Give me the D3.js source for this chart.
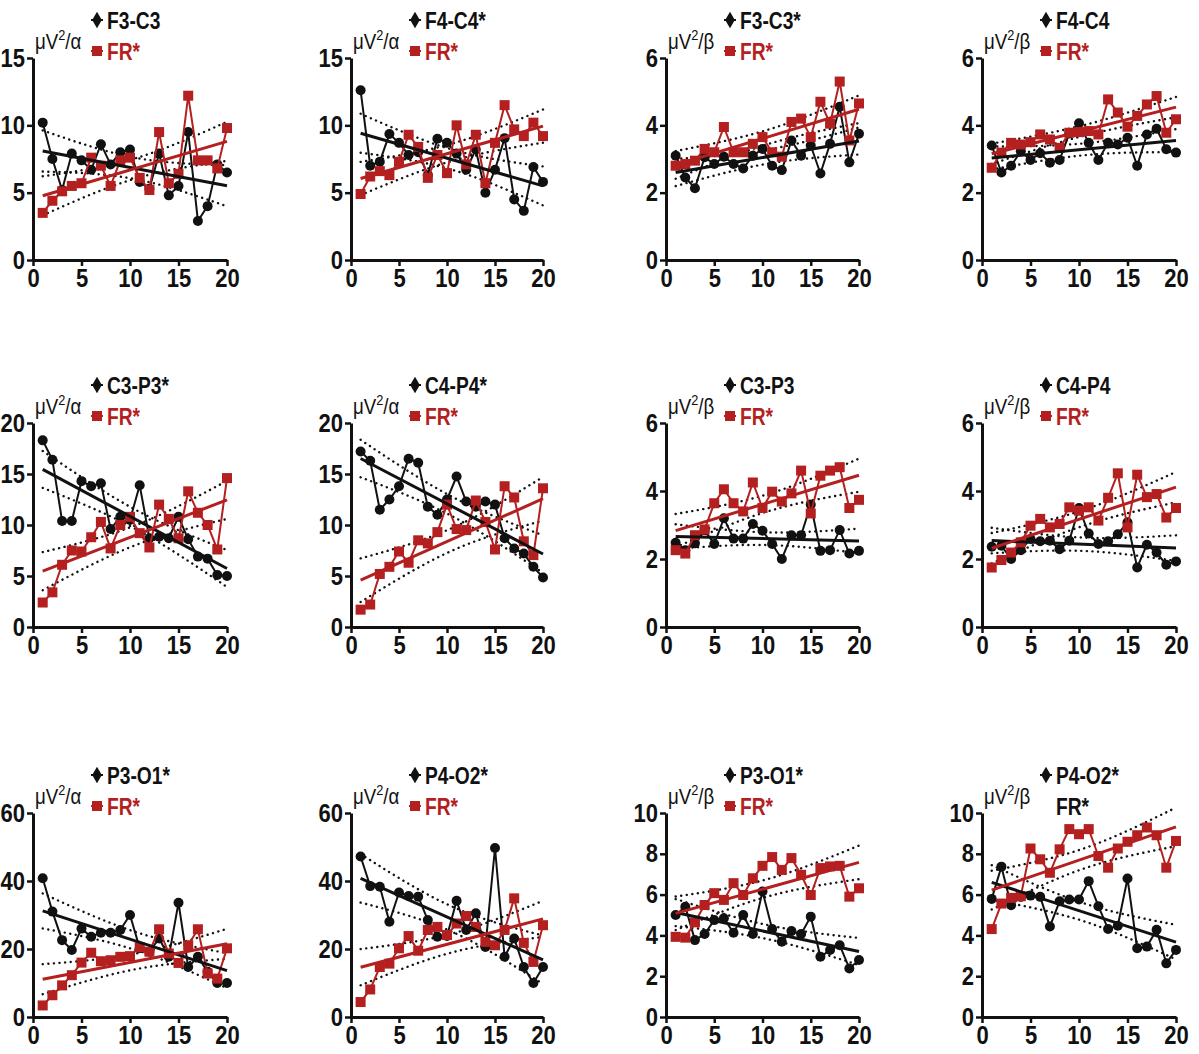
<!DOCTYPE html>
<html>
<head>
<meta charset="utf-8">
<script src="https://cdn.jsdelivr.net/npm/d3@7"></script>
<style>
  body { margin: 0; background: #fff; }
  svg text { font-family: 'Liberation Sans', Arial, sans-serif; }
</style>
</head>
<body>
<svg id="chart" width="1199" height="1054"></svg>
<script>
// Sessions 1..20
const sessions = [1, 2, 3, 4, 5, 6, 7, 8, 9, 10, 11, 12, 13, 14, 15, 16, 17, 18, 19, 20];
const xTicks = [0, 5, 10, 15, 20];

// Channel power per session (black) and frontal rhythm FR (red)
const f3c3Alpha   = [10.2, 7.5, 5.2, 7.9, 7.4, 6.7, 8.6, 7.1, 8.0, 8.2, 5.8, 5.3, 7.9, 4.8, 5.5, 9.5, 2.9, 4.0, 7.1, 6.5];
const frF3c3Alpha = [3.5, 4.4, 5.1, 5.5, 5.7, 7.6, 7.0, 5.5, 7.4, 7.6, 6.1, 5.2, 9.5, 5.7, 6.4, 12.2, 7.4, 7.4, 6.8, 9.8];

const f4c4Alpha   = [12.6, 7.0, 7.3, 9.35, 8.7, 7.8, 8.0, 6.3, 9.0, 8.7, 7.9, 6.7, 8.2, 5.0, 6.7, 9.05, 4.5, 3.65, 6.9, 5.8];
const frF4c4Alpha = [4.9, 6.2, 6.6, 6.3, 7.3, 9.3, 8.4, 6.1, 7.8, 6.45, 10.0, 7.1, 9.3, 5.7, 8.7, 11.5, 9.7, 9.2, 10.2, 9.2];

const f3c3Beta    = [3.1, 2.45, 2.13, 3.05, 2.85, 3.07, 2.85, 2.72, 3.1, 3.3, 2.8, 2.67, 3.55, 3.1, 3.4, 2.57, 3.45, 4.55, 2.9, 3.75];
const frF3c3Beta  = [2.8, 2.85, 2.95, 3.3, 3.2, 3.95, 3.2, 3.2, 3.45, 3.65, 3.2, 3.07, 4.1, 4.2, 3.65, 4.7, 4.05, 5.3, 3.55, 4.65];

const f4c4Beta    = [3.4, 2.6, 2.8, 3.23, 2.97, 3.17, 2.89, 2.97, 3.76, 4.06, 3.48, 2.97, 3.48, 3.43, 3.63, 2.8, 3.73, 3.9, 3.29, 3.19];
const frF4c4Beta  = [2.74, 3.19, 3.48, 3.43, 3.5, 3.73, 3.58, 3.33, 3.78, 3.8, 3.83, 3.73, 4.77, 4.38, 3.96, 4.28, 4.62, 4.87, 3.78, 4.18];

const c3p3Alpha   = [18.3, 16.4, 10.4, 10.4, 14.3, 13.8, 14.1, 9.6, 10.8, 10.5, 13.9, 8.7, 8.85, 8.7, 10.8, 8.6, 6.9, 6.7, 5.1, 5.0];
const frC3p3Alpha = [2.4, 3.4, 6.1, 7.5, 7.4, 8.8, 10.3, 7.7, 10.0, 10.8, 9.2, 7.8, 12.0, 10.6, 8.7, 13.3, 11.2, 10.0, 7.6, 14.6];

const c4p4Alpha   = [17.2, 16.3, 11.5, 12.5, 13.8, 16.5, 16.1, 11.8, 11.0, 12.5, 14.75, 12.3, 11.8, 12.3, 12.0, 8.7, 7.7, 7.2, 5.9, 4.85];
const frC4p4Alpha = [1.7, 2.2, 5.2, 5.9, 7.4, 6.3, 8.5, 8.2, 9.3, 12.0, 9.6, 9.5, 12.4, 10.3, 7.6, 13.8, 12.7, 8.4, 7.05, 13.6];

const c3p3Beta    = [2.48, 2.26, 2.46, 2.85, 2.44, 3.2, 2.6, 2.6, 3.03, 2.83, 2.44, 2.0, 2.7, 2.7, 3.6, 2.24, 2.26, 2.85, 2.16, 2.24];
const frC3p3Beta  = [2.26, 2.16, 2.7, 2.87, 3.64, 4.05, 3.64, 3.4, 4.25, 3.5, 3.98, 3.69, 3.93, 4.6, 3.34, 4.45, 4.6, 4.7, 3.5, 3.74];

const c4p4Beta    = [2.36, 2.39, 2.0, 2.26, 2.59, 2.52, 2.54, 2.29, 2.54, 3.5, 2.75, 2.44, 2.52, 2.73, 3.08, 1.75, 2.42, 2.19, 1.83, 1.93];
const frC4p4Beta  = [1.75, 1.97, 2.19, 2.49, 2.98, 3.18, 2.93, 3.03, 3.52, 3.42, 3.52, 3.13, 3.8, 4.52, 2.93, 4.48, 3.82, 3.91, 3.22, 3.5];

const p3o1Alpha   = [40.8, 31.0, 22.6, 19.7, 26.0, 23.6, 24.8, 24.8, 25.6, 30.0, 20.2, 19.2, 23.1, 17.7, 33.6, 14.7, 17.7, 13.3, 10.0, 10.0];
const frP3o1Alpha = [3.4, 6.4, 9.3, 12.3, 16.0, 18.9, 16.4, 16.7, 17.7, 17.9, 20.5, 19.2, 25.8, 18.7, 15.9, 21.1, 25.8, 12.8, 11.3, 20.2];

const p4o2Alpha   = [47.2, 38.5, 38.3, 28.0, 36.6, 35.6, 35.4, 28.5, 23.6, 23.8, 34.2, 25.6, 30.5, 20.6, 49.7, 17.7, 23.1, 14.7, 10.0, 14.7];
const frP4o2Alpha = [4.4, 8.1, 14.7, 15.7, 20.2, 23.8, 19.5, 25.6, 26.5, 24.1, 27.5, 29.7, 26.5, 22.1, 21.1, 25.6, 34.9, 21.8, 16.2, 27.0];

const p3o1Beta    = [5.0, 5.4, 3.77, 4.07, 4.75, 4.84, 4.13, 5.0, 4.07, 6.15, 4.31, 3.69, 4.21, 4.07, 4.92, 2.95, 3.28, 3.52, 2.38, 2.79];
const frP3o1Beta  = [3.93, 3.89, 4.64, 5.49, 6.07, 5.74, 6.56, 5.98, 6.8, 7.41, 7.84, 7.21, 7.79, 6.97, 5.98, 7.3, 7.38, 7.41, 5.9, 6.31];

const p4o2Beta    = [5.79, 7.37, 5.48, 5.89, 5.95, 5.89, 4.44, 5.67, 5.76, 5.76, 6.66, 5.43, 4.31, 4.47, 6.79, 3.37, 3.45, 4.28, 2.63, 3.29];
const frP4o2Beta  = [4.31, 5.56, 5.84, 5.92, 8.26, 7.73, 7.07, 8.22, 9.21, 8.96, 9.21, 7.89, 7.32, 8.26, 8.59, 8.91, 9.29, 8.91, 7.32, 8.63];

// Panel labels, units and y tick labels (row-major order)
const channelNames = ["F3-C3", "F4-C4*", "F3-C3*", "F4-C4", "C3-P3*", "C4-P4*", "C3-P3", "C4-P4", "P3-O1*", "P4-O2*", "P3-O1*", "P4-O2*"];
const frNames      = ["FR*", "FR*", "FR*", "FR*", "FR*", "FR*", "FR*", "FR*", "FR*", "FR*", "FR*", "FR*"];
const bandSymbols  = ["α", "α", "β", "β", "α", "α", "β", "β", "α", "α", "β", "β"];
const yTickSets = [
  [0, 5, 10, 15], [0, 5, 10, 15], [0, 2, 4, 6], [0, 2, 4, 6],
  [0, 5, 10, 15, 20], [0, 5, 10, 15, 20], [0, 2, 4, 6], [0, 2, 4, 6],
  [0, 20, 40, 60], [0, 20, 40, 60], [0, 2, 4, 6, 8, 10], [0, 2, 4, 6, 8, 10]
];
const channelData = [f3c3Alpha, f4c4Alpha, f3c3Beta, f4c4Beta, c3p3Alpha, c4p4Alpha, c3p3Beta, c4p4Beta, p3o1Alpha, p4o2Alpha, p3o1Beta, p4o2Beta];
const frData      = [frF3c3Alpha, frF4c4Alpha, frF3c3Beta, frF4c4Beta, frC3p3Alpha, frC4p4Alpha, frC3p3Beta, frC4p4Beta, frP3o1Alpha, frP4o2Alpha, frP3o1Beta, frP4o2Beta];

const RED = "#b41f1f";
const BLACK = "#111";
const T975 = 2.101; // t critical value, df = 18

const svg = d3.select("#chart");

// Grid geometry: plot-area x extents per column, y extents per row
const colX = [[33, 227], [351, 543], [666, 859], [982, 1176]];
const rowY = [[58, 260], [423, 627], [813, 1017]];

// horizontally squeeze a text element about its anchor x
function condense(sel, k) {
  sel.each(function () {
    const t = d3.select(this);
    const ax = +t.attr("x") || 0;
    t.attr("transform", `translate(${ax},0) scale(${k},1) translate(${-ax},0)`);
  });
}

function linearFit(xs, ys) {
  const n = xs.length;
  const mx = d3.mean(xs), my = d3.mean(ys);
  let sxx = 0, sxy = 0;
  for (let i = 0; i < n; i++) { sxx += (xs[i] - mx) ** 2; sxy += (xs[i] - mx) * (ys[i] - my); }
  const b = sxy / sxx, a = my - b * mx;
  let sse = 0;
  for (let i = 0; i < n; i++) sse += (ys[i] - (a + b * xs[i])) ** 2;
  const s = Math.sqrt(sse / (n - 2));
  const pred = x => a + b * x;
  const half = x => T975 * s * Math.sqrt(1 / n + (x - mx) ** 2 / sxx);
  return { pred, half };
}

const curveXs = d3.range(1, 20.001, 0.25);

channelNames.forEach((name, i) => {
  const col = i % 4, row = Math.floor(i / 4);
  const ticks = yTickSets[i];
  const x = d3.scaleLinear().domain([0, 20]).range(colX[col]);
  const y = d3.scaleLinear().domain([0, d3.max(ticks)]).range([rowY[row][1], rowY[row][0]]);
  const g = svg.append("g");

  // axes
  const xAxis = g.append("g").attr("transform", `translate(0,${y(0)})`)
    .call(d3.axisBottom(x).tickValues(xTicks).tickFormat(d3.format("d")).tickSize(6).tickPadding(3).tickSizeOuter(0));
  const yAxis = g.append("g").attr("transform", `translate(${x(0)},0)`)
    .call(d3.axisLeft(y).tickValues(ticks).tickFormat(d3.format("d")).tickSize(6).tickPadding(2).tickSizeOuter(0));
  [xAxis, yAxis].forEach(ax => {
    ax.select(".domain").attr("stroke", BLACK).attr("stroke-width", 3);
    ax.selectAll(".tick line").attr("stroke", BLACK).attr("stroke-width", 2.5);
    ax.selectAll(".tick text").attr("fill", BLACK).attr("font-size", 25).attr("font-weight", "bold")
      .style("font-family", "'Liberation Sans', Arial, sans-serif");
  });
  xAxis.selectAll(".tick text").attr("dy", "0.72em");
  condense(xAxis.selectAll(".tick text"), 0.88);
  condense(yAxis.selectAll(".tick text"), 0.88);

  const series = [
    { values: channelData[i], color: BLACK, shape: "circle" },
    { values: frData[i], color: RED, shape: "square" }
  ];

  // confidence bands
  series.forEach(s => {
    const f = linearFit(sessions, s.values);
    const upper = d3.line().x(d => x(d)).y(d => y(f.pred(d) + f.half(d)));
    const lower = d3.line().x(d => x(d)).y(d => y(f.pred(d) - f.half(d)));
    [upper, lower].forEach(ln => {
      g.append("path").attr("d", ln(curveXs)).attr("fill", "none")
        .attr("stroke", BLACK).attr("stroke-width", 2.4)
        .attr("stroke-dasharray", "0.1 5.5").attr("stroke-linecap", "round");
    });
    s.fit = f;
  });

  // data lines and markers
  series.forEach(s => {
    const line = d3.line().x((d, k) => x(sessions[k])).y(d => y(d));
    g.append("path").attr("d", line(s.values)).attr("fill", "none")
      .attr("stroke", s.color).attr("stroke-width", 2);
    if (s.shape === "circle") {
      g.selectAll(null).data(s.values).join("circle")
        .attr("cx", (d, k) => x(sessions[k])).attr("cy", d => y(d)).attr("r", 5)
        .attr("fill", s.color);
    } else {
      g.selectAll(null).data(s.values).join("rect")
        .attr("x", (d, k) => x(sessions[k]) - 5).attr("y", d => y(d) - 5)
        .attr("width", 10).attr("height", 10).attr("fill", s.color);
    }
  });

  // regression lines
  series.forEach(s => {
    g.append("line")
      .attr("x1", x(1)).attr("x2", x(20))
      .attr("y1", y(s.fit.pred(1))).attr("y2", y(s.fit.pred(20)))
      .attr("stroke", s.color).attr("stroke-width", 3);
  });

  // unit label
  const x0 = x(0), top = y(d3.max(ticks));
  const unit = g.append("text").attr("x", x0 + 2).attr("y", top - 9)
    .attr("font-size", 22).attr("fill", BLACK);
  unit.append("tspan").text("μV");
  unit.append("tspan").attr("dy", -9).attr("font-size", 15).text("2");
  unit.append("tspan").attr("dy", 9).text("/" + bandSymbols[i]);
  condense(unit, 0.85);

  // legend
  const lx = x0 + 64;
  const ly1 = top - 38, ly2 = top - 7;
  g.append("line").attr("x1", lx - 6).attr("x2", lx + 6).attr("y1", ly1).attr("y2", ly1)
    .attr("stroke", BLACK).attr("stroke-width", 2);
  g.append("path").attr("d", d3.symbol(d3.symbolDiamond, 80)())
    .attr("transform", `translate(${lx},${ly1})`).attr("fill", BLACK);
  const t1 = g.append("text").attr("x", lx + 10).attr("y", ly1).attr("dy", "0.36em")
    .attr("font-size", 24).attr("font-weight", "bold").attr("fill", BLACK).text(name);
  condense(t1, 0.8);

  const frBlackOnly = i === 11;
  if (!frBlackOnly) {
    g.append("line").attr("x1", lx - 6).attr("x2", lx + 6).attr("y1", ly2).attr("y2", ly2)
      .attr("stroke", RED).attr("stroke-width", 2);
    g.append("rect").attr("x", lx - 5).attr("y", ly2 - 5).attr("width", 10).attr("height", 10)
      .attr("fill", RED);
  }
  const t2 = g.append("text").attr("x", lx + 10).attr("y", ly2).attr("dy", "0.36em")
    .attr("font-size", 24).attr("font-weight", "bold")
    .attr("fill", frBlackOnly ? BLACK : RED).text(frNames[i]);
  condense(t2, 0.8);
});
</script>
</body>
</html>
